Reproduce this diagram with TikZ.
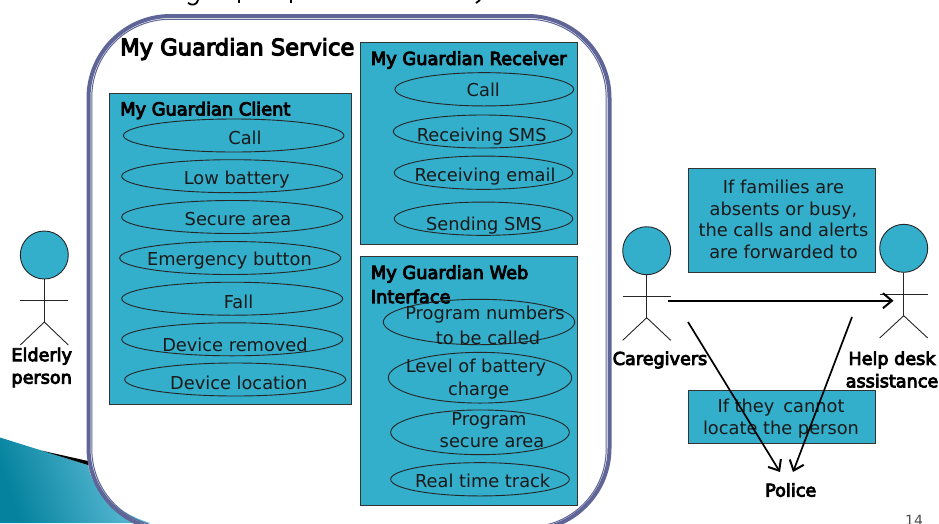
\documentclass[tikz,border=0pt]{standalone}
\usepackage{fontspec}
\setmainfont{DejaVu Sans}
\newfontfamily\fauxbold[FakeBold=5]{DejaVu Sans}
\usetikzlibrary{arrows.meta,shapes.geometric}
\definecolor{boxteal}{HTML}{33AECB}
\definecolor{frameblue}{HTML}{5F6596}
\definecolor{cornerdark}{HTML}{04829E}
\definecolor{cornermid}{HTML}{129DBB}
\definecolor{cornerlight}{HTML}{6AC4DE}
\tikzset{
  panel/.style={draw=black!80,fill=boxteal,line width=0.9pt,rectangle,inner sep=0pt},
  usecase/.style={draw=black!85,line width=0.9pt,ellipse,inner sep=0pt},
  casetext/.style={font=\fontsize{17.8}{20}\selectfont,inner sep=0pt,text=black!90,align=center},
  heading/.style={font=\fauxbold\fontsize{17.8}{20}\selectfont,inner sep=0pt,anchor=west},
  actorlabel/.style={font=\fauxbold\fontsize{17.6}{22.5}\selectfont,inner sep=0pt,align=center},
  stick/.style={draw=black!85,line width=0.9pt},
  head/.style={draw=black!85,fill=boxteal,circle,line width=0.9pt,minimum size=48pt,inner sep=0pt},
  flow/.style={draw=black,line width=1.7pt,-{Straight Barb[length=9pt,width=15pt,line width=2pt]}},
}
\newcommand{\ucase}[8]{% name cx cy rx ry tx ty text
  \node[usecase,minimum width=#4pt,minimum height=#5pt] (#1) at (#2,#3) {};
  \node[casetext] (#1t) at (#6,#7) {#8};
}
\newcommand{\actor}[6]{% name cx cy armY bodyEnd legEnd
  \node[head] (#1) at (#2,#3) {};
  \coordinate (#1hip) at (#2,#5);
  \coordinate (#1al) at (#2-24,#4);
  \coordinate (#1ar) at (#2+24,#4);
  \coordinate (#1ll) at (#2-24,#6);
  \coordinate (#1lr) at (#2+24,#6);
  \draw[stick] (#1.south) -- (#1hip);
  \draw[stick] (#1al) -- (#1ar);
  \draw[stick] (#1ll) -- (#1hip) -- (#1lr);
}
\begin{document}
\begin{tikzpicture}[x=1pt,y=-1pt]
\useasboundingbox (0,0) rectangle (939,523);
\clip (0,0) rectangle (939,523);
% corner decoration
\shade[left color=cornerdark,middle color=cornermid,right color=cornerlight,shading angle=110]
  (0,437.5) -- (88,465) .. controls (92,490) and (115,512) .. (150,523) -- (0,523) -- cycle;
\fill[black] (42,450.7) -- (88,461) -- (88,465) -- cycle;
% frame
\draw[frameblue,line width=4pt,rounded corners=82pt] (88.5,16) rectangle (609.5,530);
\draw[frameblue,line width=1pt,rounded corners=78pt] (91.8,19.3) rectangle (606.2,527);
% top title remains
\draw[black,line width=1.8pt] (188,3) .. controls (192,6) and (197,5) .. (198,0);
\draw[black,line width=1.8pt] (239,0) -- (239,3);
\draw[black,line width=1.8pt] (291,0) -- (291,3);
\draw[black,line width=1.8pt] (480,0) -- (476,3);
% service
\node[inner sep=0pt,anchor=west,font=\fauxbold\fontsize{22.6}{26}\selectfont] (service) at (120,49) {My Guardian Service};
% client
\node[panel,minimum width=242pt,minimum height=311pt] (client) at (230.5,248.5) {};
\node[heading] (clientt) at (120,110.5) {My Guardian Client};
\ucase{ca}{233.7}{135.5}{220.5}{33}{245}{138}{Call}
\ucase{cb}{232.2}{176.2}{221}{33}{236.7}{180}{Low battery}
\ucase{cc}{232.2}{217}{221}{33}{238}{219}{Secure area}
\ucase{cd}{230.2}{258}{221}{33}{229.5}{261}{Emergency button}
\ucase{ce}{232.2}{298.7}{221}{33}{238.5}{301.5}{Fall}
\ucase{cf}{232.2}{339.3}{221}{33}{235}{345}{Device removed}
\ucase{cg}{235.2}{379.5}{221}{33}{238.7}{383}{Device location}
% receiver
\node[panel,minimum width=216.5pt,minimum height=202pt] (receiver) at (468.7,143) {};
\node[heading] (receivert) at (370.7,60) {My Guardian Receiver};
\ucase{ra}{484.3}{89.3}{178.7}{33.3}{483.3}{90}{Call}
\ucase{rb}{482.7}{131.5}{178.7}{33}{481.7}{136.5}{Receiving SMS}
\ucase{rc}{483.5}{172.7}{178.4}{33.3}{485}{176.5}{Receiving email}
\ucase{rd}{483.5}{218.7}{178.4}{33.3}{484}{225.5}{Sending SMS}
% web
\node[panel,minimum width=216.5pt,minimum height=249.5pt] (web) at (468.7,380.7) {};
\node[heading] (webt) at (370.7,274) {My Guardian Web};
\node[heading] (webu) at (370.7,296.5) {Interface};
\ucase{wa}{479}{322}{191.4}{45.4}{485}{315}{Program numbers}
\node[casetext] (wab) at (488,338) {to be called};
\ucase{wb}{480}{377.7}{183.4}{50.7}{476}{368}{Level of battery}
\node[casetext] (wbb) at (478.7,391) {charge};
\ucase{wc}{480}{432.3}{178.6}{44.7}{489}{421}{Program}
\node[casetext] (wcb) at (492,443) {secure area};
\ucase{wd}{480}{479.3}{178.6}{33.3}{482.7}{481}{Real time track}
% right panels
\node[panel,minimum width=187pt,minimum height=104pt,align=center] (fam) at (781.5,220) {};
\node[casetext,align=center] (famt) at (783.5,219.5) {If families are\\[1.5pt]absents or busy,\\[1.5pt]the calls and alerts\\[1.5pt]are forwarded to};
\node[panel,minimum width=187pt,minimum height=53pt] (loc) at (781.5,416.5) {};
\node[casetext] (loct) at (781,418.5) {If they\,\,\,cannot\\[1.5pt]locate the person};
% actors
\actor{eld}{44.3}{255}{300.7}{322}{345}
\actor{care}{646.7}{250.7}{296.3}{317.7}{340.3}
\actor{help}{903.7}{248.3}{294}{315.7}{338}
\node[actorlabel] (eldl) at (41.7,367.5) {Elderly\\person};
\node[actorlabel] (carel) at (660,360) {Caregivers};
\node[actorlabel] (helpl) at (892,369.5) {Help desk\\assistance};
\node[inner sep=0pt,font=\fauxbold\fontsize{17.6}{20}\selectfont] (police) at (790.7,490) {Police};
\node[inner sep=0pt,font=\fontsize{14}{16}\selectfont,text=black!70] (page) at (914,520) {14};
% arrows
\coordinate (s1) at (667.7,300.7);
\coordinate (e1) at (893.5,300.7);
\coordinate (s2) at (688,322);
\coordinate (e2) at (780,472);
\coordinate (s3) at (852,317);
\coordinate (e3) at (793,472);
\draw[flow] (s1) -- (e1);
\draw[flow] (s2) -- (e2);
\draw[flow] (s3) -- (e3);
\end{tikzpicture}
\end{document}
